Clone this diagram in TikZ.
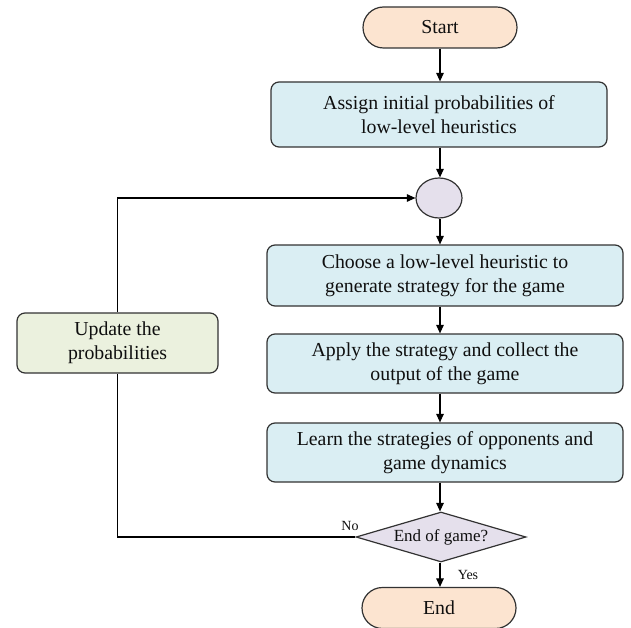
\documentclass[tikz,border=0pt]{standalone}
\usepackage{fontspec}
\setmainfont{Liberation Serif}
\usetikzlibrary{shapes.geometric,shapes.misc,arrows.meta}
\definecolor{peach}{RGB}{252,228,208}
\definecolor{lblue}{RGB}{218,238,243}
\definecolor{lgreen}{RGB}{235,241,222}
\definecolor{lav}{RGB}{229,224,236}
\definecolor{edgec}{RGB}{50,50,50}
\definecolor{txt}{RGB}{15,15,15}
\begin{document}
\begin{tikzpicture}[x=1pt,y=-1pt,
  base/.style={draw=edgec,line width=1.2pt,align=center,inner sep=0pt,text=txt,font=\fontsize{19.8}{24}\selectfont},
  term/.style={base,rounded rectangle,fill=peach,minimum width=154pt,minimum height=41pt},
  proc/.style={base,rectangle,rounded corners=8pt,fill=lblue,minimum width=356pt,minimum height=60pt},
  updbox/.style={base,rectangle,rounded corners=8pt,fill=lgreen,minimum width=201pt,minimum height=60pt},
  conn/.style={draw=black,line width=1.1pt},
  arr/.style={conn,-{Triangle[length=8.5pt,width=7.5pt]}},
  lab/.style={text=txt,font=\fontsize{14}{16}\selectfont,inner sep=0pt}
]
\useasboundingbox (0,0) rectangle (631,628);
\coordinate (colx) at (440,0);
\node[term] (start) at (440,27.5) {Start};
\node[proc, minimum width=336pt, minimum height=65pt] (assign) at (439,114.5) {Assign initial probabilities of\\low-level heuristics};
\node[base, ellipse, fill=lav, minimum width=46pt, minimum height=40pt] (circ) at (439,198) {};
\node[proc, minimum height=61pt] (choose) at (445,275.5) {Choose a low-level heuristic to\\generate strategy for the game};
\node[proc, minimum height=59pt] (apply) at (445,363.5) {Apply the strategy and collect the\\output of the game};
\node[proc, minimum height=59pt] (learn) at (445,452.5) {Learn the strategies of opponents and\\game dynamics};
\node[base, diamond, aspect=3.4, fill=lav, minimum width=170pt, minimum height=50pt, font=\fontsize{17}{20}\selectfont] (dec) at (441,537) {End of game?};
\node[term] (end) at (439,608) {End};
\node[updbox] (upd) at (117.5,343) {Update the\\probabilities};

\draw[arr] (start.south) -- (start.south |- assign.north);
\draw[arr] (colx |- assign.south) -- (colx |- circ.north);
\draw[arr] (colx |- circ.south) -- (colx |- choose.north);
\draw[arr] (colx |- choose.south) -- (colx |- apply.north);
\draw[arr] (colx |- apply.south) -- (colx |- learn.north);
\draw[arr] (colx |- learn.south) -- (colx |- dec.north);
\draw[arr] (colx |- dec.south) -- (colx |- end.north);
\node[lab] (yes) at (468,575) {Yes};
\draw[conn] (dec.west) -| (upd.south);
\node[lab] (no) at (350,526) {No};
\draw[arr] (upd.north) |- (circ.west);
\end{tikzpicture}
\end{document}
